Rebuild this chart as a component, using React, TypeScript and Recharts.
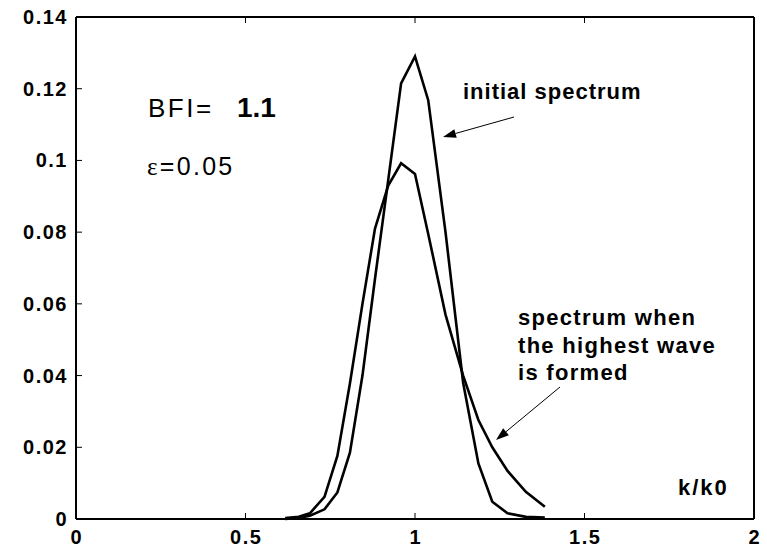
import React from "react";
import { LineChart, Line, XAxis, YAxis } from "recharts";

// k/k0 grid
const kValues = [0.617, 0.657, 0.69, 0.733, 0.771, 0.808, 0.845, 0.882, 0.921, 0.959, 1.0, 1.039, 1.09, 1.142, 1.187, 1.228, 1.273, 1.327, 1.383];
// initial spectrum
const initialSpectrum = [0.0, 0.0003, 0.0009, 0.0027, 0.0074, 0.0185, 0.04, 0.067, 0.0945, 0.1215, 0.129, 0.1168, 0.08, 0.038, 0.0155, 0.0048, 0.0016, 0.0006, 0.0004];
// spectrum when the highest wave is formed
const formedSpectrum = [0.0003, 0.0006, 0.0016, 0.0062, 0.0176, 0.0378, 0.06, 0.081, 0.093, 0.0992, 0.0962, 0.0795, 0.057, 0.04, 0.0276, 0.02, 0.0134, 0.0076, 0.0034];

const xTicks = [0, 0.5, 1, 1.5, 2];
const yTicks = [0, 0.02, 0.04, 0.06, 0.08, 0.1, 0.12, 0.14];
const xTickLabels = ["0", "0.5", "1", "1.5", "2"];
const yTickLabels = ["0", "0.02", "0.04", "0.06", "0.08", "0.1", "0.12", "0.14"];

const data = kValues.map((k, i) => ({ k, initial: initialSpectrum[i], formed: formedSpectrum[i] }));

const FONT = "'Liberation Sans', Arial, Helvetica, sans-serif";
const TICK_LEN = 6;

const BottomTick = (props: any) => {
  const { x, y, payload } = props;
  const idx = xTicks.indexOf(payload.value);
  return (
    <g>
      <line x1={x} y1={y} x2={x} y2={y - TICK_LEN} stroke="#000" strokeWidth={1} />
      <text x={x + 0.75} y={y + 25} textAnchor="middle" fontFamily={FONT} fontWeight="bold" fontSize={20} letterSpacing={1.5} fill="#000">
        {idx >= 0 ? xTickLabels[idx] : payload.value}
      </text>
    </g>
  );
};

const LeftTick = (props: any) => {
  const { x, y, payload } = props;
  const idx = yTicks.indexOf(payload.value);
  return (
    <g>
      <line x1={x} y1={y} x2={x + TICK_LEN} y2={y} stroke="#000" strokeWidth={1} />
      <text x={x - 8} y={y + 7} textAnchor="end" fontFamily={FONT} fontWeight="bold" fontSize={20} letterSpacing={1.5} fill="#000">
        {idx >= 0 ? yTickLabels[idx] : payload.value}
      </text>
    </g>
  );
};

const TopTick = (props: any) => {
  const { x, y } = props;
  return <line x1={x} y1={y} x2={x} y2={y + TICK_LEN} stroke="#000" strokeWidth={1} />;
};

const RightTick = (props: any) => {
  const { x, y } = props;
  return <line x1={x} y1={y} x2={x - TICK_LEN} y2={y} stroke="#000" strokeWidth={1} />;
};

const Arrow = ({ x1, y1, x2, y2 }: { x1: number; y1: number; x2: number; y2: number }) => {
  const ang = Math.atan2(y2 - y1, x2 - x1);
  const L = 13;
  const W = 4.5;
  const bx = x2 - L * Math.cos(ang);
  const by = y2 - L * Math.sin(ang);
  const px = -Math.sin(ang) * W;
  const py = Math.cos(ang) * W;
  return (
    <g>
      <line x1={x1} y1={y1} x2={bx} y2={by} stroke="#000" strokeWidth={1} />
      <polygon points={`${x2},${y2} ${bx + px},${by + py} ${bx - px},${by - py}`} fill="#000" />
    </g>
  );
};

export default function App() {
  return (
    <div style={{ position: "absolute", left: 0, top: 0, width: 767, height: 550, background: "#fff" }}>
      <LineChart width={767} height={550} data={data} margin={{ top: 7, right: 3, bottom: 0, left: 0 }}>
        <XAxis
          dataKey="k"
          type="number"
          domain={[0, 2]}
          ticks={xTicks}
          height={31}
          tickSize={0}
          tickMargin={0}
          axisLine={{ stroke: "#000", strokeWidth: 2 }}
          tick={BottomTick}
          interval={0}
        />
        <XAxis
          xAxisId="top"
          orientation="top"
          dataKey="k"
          type="number"
          domain={[0, 2]}
          ticks={xTicks}
          height={10}
          tickSize={0}
          tickMargin={0}
          axisLine={{ stroke: "#000", strokeWidth: 2 }}
          tick={TopTick}
          interval={0}
        />
        <YAxis
          type="number"
          domain={[0, 0.14]}
          ticks={yTicks}
          width={76}
          tickSize={0}
          tickMargin={0}
          axisLine={{ stroke: "#000", strokeWidth: 2 }}
          tick={LeftTick}
          interval={0}
        />
        <YAxis
          yAxisId="right"
          orientation="right"
          type="number"
          domain={[0, 0.14]}
          ticks={yTicks}
          width={10}
          tickSize={0}
          tickMargin={0}
          axisLine={{ stroke: "#000", strokeWidth: 2 }}
          tick={RightTick}
          interval={0}
        />
        <Line type="linear" dataKey="initial" stroke="#000" strokeWidth={2.6} dot={false} isAnimationActive={false} />
        <Line type="linear" dataKey="formed" stroke="#000" strokeWidth={2.6} dot={false} isAnimationActive={false} />
      </LineChart>
      <svg width={767} height={550} style={{ position: "absolute", left: 0, top: 0, pointerEvents: "none" }}>
        <text x={148} y={117} fontFamily={FONT} fontSize={26} letterSpacing={2.5} fill="#000">BFI=</text>
        <text x={237} y={117} fontFamily={FONT} fontSize={28} fontWeight="bold" fill="#000">1.1</text>
        <text x={147} y={175} fontFamily={FONT} fontSize={25} letterSpacing={2.3} fill="#000">
          <tspan fontFamily="'Liberation Serif', 'Times New Roman', serif">ε</tspan>=0.05
        </text>
        <text x={463} y={99} fontFamily={FONT} fontSize={22} fontWeight="bold" letterSpacing={1} fill="#000">initial spectrum</text>
        <text fontFamily={FONT} fontSize={22} fontWeight="bold" letterSpacing={1.3} fill="#000">
          <tspan x={518} y={325}>spectrum when</tspan>
          <tspan x={518} y={352.5}>the highest wave</tspan>
          <tspan x={518} y={380}>is formed</tspan>
        </text>
        <text x={678} y={495} fontFamily={FONT} fontSize={22} fontWeight="bold" letterSpacing={2} fill="#000">k/k0</text>
        <Arrow x1={514} y1={117} x2={443} y2={137} />
        <Arrow x1={560} y1={387} x2={496} y2={440} />
      </svg>
    </div>
  );
}
